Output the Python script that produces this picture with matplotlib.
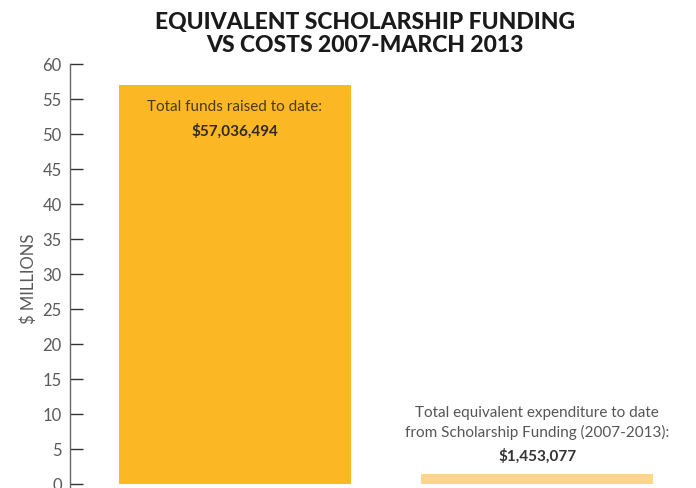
import matplotlib.pyplot as plt

# ── DATA ─────────────────────────────────────────────────────
categories = ["Total funds raised to date:",
              "Total equivalent expenditure to date\nfrom Scholarship Funding (2007-2013):"]
values_musd = [57.036494, 1.453077]
value_labels = ["$57,036,494", "$1,453,077"]
yticks = list(range(0, 65, 5))

bar_colors = ["#FBB724", "#FDD68B"]
grey = "#5A5A5A"
plt.rcParams["font.family"] = ["Lato", "DejaVu Sans"]

W, H = 696, 489
fig = plt.figure(figsize=(W / 100, H / 100), dpi=100)
ax = fig.add_axes([70 / W, -3 / H, 626 / W, 427 / H])

x = [0, 1]
ax.bar(x, values_musd, width=0.768, color=bar_colors, zorder=2)
ax.set_xlim(-0.546, 1.526)
ax.set_ylim(-1, 60)
ax.set_yticks(yticks)
ax.set_yticklabels([str(t) for t in yticks], fontsize=12, color=grey, fontweight="normal")
ax.set_xticks([])
for s in ["top", "right", "bottom"]:
    ax.spines[s].set_visible(False)
ax.spines["left"].set_color("#666666")
ax.spines["left"].set_linewidth(1.0)
ax.tick_params(axis="y", direction="in", length=9, width=1, color="#333333", pad=6)
ax.set_ylabel("$ MILLIONS", fontsize=12, color=grey, fontweight="normal", labelpad=4)

# label inside the tall bar
ax.annotate(categories[0], (x[0], values_musd[0]), xytext=(0, -10),
            textcoords="offset points", ha="center", va="top",
            fontsize=11, color="#4A3A1A")
ax.annotate(value_labels[0], (x[0], values_musd[0]), xytext=(0, -27),
            textcoords="offset points", ha="center", va="top",
            fontsize=11, color="#2E2A22", fontweight="bold")

# label above the short bar
ax.annotate(value_labels[1], (x[1], values_musd[1]), xytext=(0, 8),
            textcoords="offset points", ha="center", va="bottom",
            fontsize=11, color="#333333", fontweight="bold")
ax.annotate(categories[1], (x[1], values_musd[1]), xytext=(0, 25),
            textcoords="offset points", ha="center", va="bottom",
            fontsize=11, color="#555555", linespacing=1.45)

fig.text(365 / W, 1 - 34 / H, "EQUIVALENT SCHOLARSHIP FUNDING\nVS COSTS 2007-MARCH 2013",
         ha="center", va="center", fontsize=16.5, fontweight="black", color="#1A1A1A",
         linespacing=1.1)

fig.savefig("out.png", dpi=100)
